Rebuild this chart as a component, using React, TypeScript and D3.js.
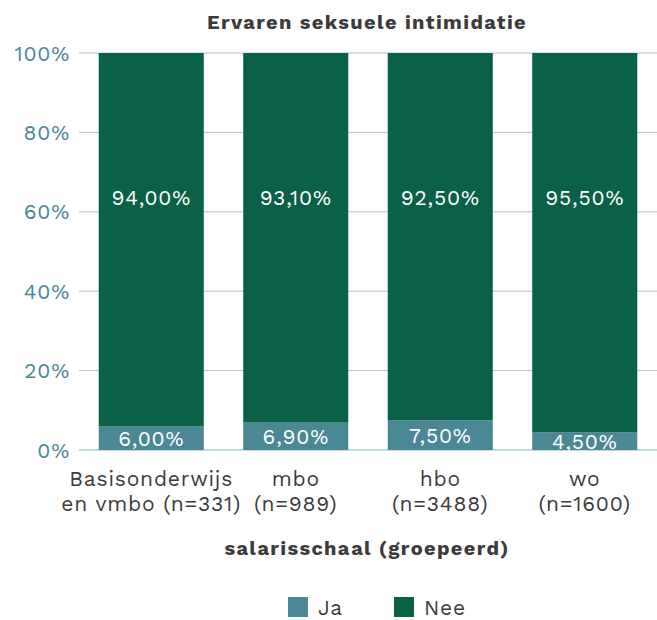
import React from "react";
import * as d3 from "d3";

const categories = ["Basisonderwijs|en vmbo (n=331)", "mbo|(n=989)", "hbo|(n=3488)", "wo|(n=1600)"];
const jaValues = [6.0, 6.9, 7.5, 4.5];
const neeValues = [94.0, 93.1, 92.5, 95.5];
const yTicks = [0, 20, 40, 60, 80, 100];
const seriesNames = ["Ja", "Nee"];
const colors = ["#4b8795", "#0b6048"];

const W = 657, H = 620;

export default function App() {
  const x = d3.scaleBand<string>().domain(categories).range([79, 657]).paddingInner(0.273).paddingOuter(0.1365);
  const y = d3.scaleLinear().domain([0, 100]).range([450, 53]);
  const fmt = (v: number) => v.toFixed(2).replace(".", ",") + "%";
  const font = "'Work Sans', Inter, 'Open Sans', sans-serif";
  const fs = 21;
  const ls = 0.8;
  return (
    <svg width={W} height={H} style={{ position: "absolute", left: 0, top: 0, fontFamily: font }}>
      <text x={367} y={22} dy="0.36em" textAnchor="middle" fontSize={20} fontWeight={700} letterSpacing={1.35} fill="#3b3b3b">Ervaren seksuele intimidatie</text>
      {yTicks.map(t => (
        <g key={t}>
          <line x1={79} x2={657} y1={y(t)} y2={y(t)} stroke={t === 0 ? "#8fb6c2" : "#a9c6cf"} strokeWidth={1} />
          <text x={70} y={y(t)} dy="0.36em" textAnchor="end" fontSize={fs} letterSpacing={ls} fill="#4b8795">{t}%</text>
        </g>
      ))}
      {categories.map((c, i) => {
        const bx = x(c)!;
        const bw = x.bandwidth();
        const ja = jaValues[i], nee = neeValues[i];
        return (
          <g key={c}>
            <rect x={bx} width={bw} y={y(ja)} height={y(0) - y(ja)} fill={colors[0]} />
            <rect x={bx} width={bw} y={y(ja + nee)} height={y(ja) - y(ja + nee)} fill={colors[1]} />
            <text x={bx + bw / 2} y={(y(0) + y(ja)) / 2} dy="0.36em" textAnchor="middle" fontSize={fs} letterSpacing={ls} fill="#fff">{fmt(ja)}</text>
            <text x={bx + bw / 2} y={y(63.5)} dy="0.36em" textAnchor="middle" fontSize={fs} letterSpacing={ls} fill="#fff">{fmt(nee)}</text>
            {c.split("|").map((line, k) => (
              <text key={k} x={bx + bw / 2} y={478 + k * 25} dy="0.36em" textAnchor="middle" fontSize={fs} letterSpacing={ls} fill="#3b3b3b">{line}</text>
            ))}
          </g>
        );
      })}
      <text x={367} y={548} dy="0.36em" textAnchor="middle" fontSize={20} fontWeight={700} letterSpacing={1.35} fill="#3b3b3b">salarisschaal (groepeerd)</text>
      {seriesNames.map((s, i) => (
        <g key={s} transform={`translate(${288 + i * 106},597)`}>
          <rect width={20} height={20} fill={colors[i]} />
          <text x={30} y={10} dy="0.36em" fontSize={fs} letterSpacing={ls} fill="#3b3b3b">{s}</text>
        </g>
      ))}
    </svg>
  );
}
